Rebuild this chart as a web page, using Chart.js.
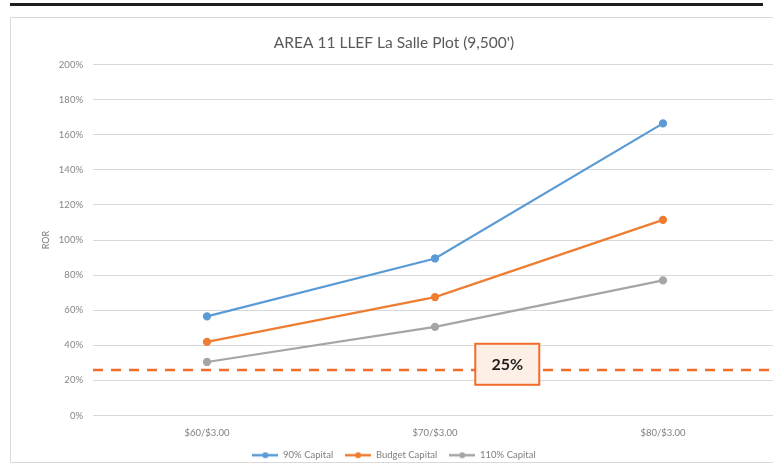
<!DOCTYPE html>
<html>
<head>
<meta charset="utf-8">
<script src="https://cdn.jsdelivr.net/npm/chart.js@4.4.1/dist/chart.umd.min.js"></script>
<style>
  html, body { margin: 0; padding: 0; background: #fff; overflow: hidden; width: 773px; height: 465px; }
  #topRule { position: absolute; left: 10px; top: 3px; width: 753px; height: 3px; background: #1e1e1e; }
  #frame { position: absolute; left: 10px; top: 17px; width: 800px; height: 446px; border: 1px solid #d9d9d9; box-sizing: border-box; }
  #wrap { position: absolute; left: 11px; top: 18px; width: 772px; height: 452px; }
</style>
</head>
<body>
<div id="topRule"></div>
<div id="frame"></div>
<div id="wrap"><canvas id="rorChart"></canvas></div>
<script>
const categories = ["$60/$3.00", "$70/$3.00", "$80/$3.00"];
const seriesNames = ["90% Capital", "Budget Capital", "110% Capital"];
const capital90 = [56.5, 89.5, 166.5];
const budgetCapital = [42, 67.5, 111.5];
const capital110 = [30.5, 50.5, 77];
const seriesColors = ["#5b9bd5", "#ed7d31", "#a5a5a5"];
const thresholdValue = 26;
const thresholdLabel = "25%";

const font = "Lato, 'Open Sans', sans-serif";

// little line-with-dot swatch, like the legend in Excel
function legendSwatch(color) {
  const c = document.createElement("canvas");
  c.width = 26;
  c.height = 8;
  const g = c.getContext("2d");
  g.strokeStyle = color;
  g.lineWidth = 2.5;
  g.beginPath();
  g.moveTo(0, 4);
  g.lineTo(26, 4);
  g.stroke();
  g.fillStyle = color;
  g.beginPath();
  g.arc(13, 4, 3, 0, Math.PI * 2);
  g.fill();
  return c;
}

const thresholdPlugin = {
  id: "threshold",
  afterDatasetsDraw(chart) {
    const { ctx, chartArea, scales } = chart;
    const y = scales.y.getPixelForValue(thresholdValue);
    ctx.save();
    ctx.strokeStyle = "#f26b2a";
    ctx.lineWidth = 2.5;
    ctx.setLineDash([10, 8]);
    ctx.beginPath();
    ctx.moveTo(chartArea.left, y);
    ctx.lineTo(chart.width, y);
    ctx.stroke();
    ctx.setLineDash([]);

    // label box sits a bit right of the middle category
    const cx = scales.x.getPixelForValue(1) + 0.317 * (scales.x.getPixelForValue(2) - scales.x.getPixelForValue(1));
    const cy = scales.y.getPixelForValue(29.2);
    const w = 64, h = 41;
    ctx.fillStyle = "#fdefe5";
    ctx.fillRect(cx - w / 2, cy - h / 2, w, h);
    ctx.strokeStyle = "#f26b2a";
    ctx.lineWidth = 2;
    ctx.strokeRect(cx - w / 2, cy - h / 2, w, h);
    ctx.fillStyle = "#1f1f1f";
    ctx.font = "bold 16px " + font;
    ctx.textAlign = "center";
    ctx.textBaseline = "middle";
    ctx.fillText(thresholdLabel, cx, cy + 1);
    ctx.restore();
  },
};

const datasetValues = [capital90, budgetCapital, capital110];

new Chart(document.getElementById("rorChart"), {
  type: "line",
  data: {
    labels: categories,
    datasets: datasetValues.map((vals, i) => ({
      label: seriesNames[i],
      data: vals,
      borderColor: seriesColors[i],
      backgroundColor: seriesColors[i],
      borderWidth: 2.25,
      pointRadius: 3,
      pointHoverRadius: 3,
      tension: 0,
    })),
  },
  options: {
    responsive: true,
    maintainAspectRatio: false,
    animation: false,
    layout: { padding: { left: 0, right: 6, top: 0, bottom: 0 } },
    plugins: {
      title: {
        display: true,
        text: "AREA 11 LLEF La Salle Plot (9,500')",
        color: "#595959",
        font: { family: font, size: 15.5, weight: "normal" },
        padding: { top: 16, bottom: 12 },
      },
      legend: {
        position: "bottom",
        labels: {
          color: "#7f7f7f",
          font: { family: font, size: 9.5 },
          usePointStyle: true,
          pointStyleWidth: 26,
          boxHeight: 9,
          padding: 12,
          generateLabels(chart) {
            const items = Chart.defaults.plugins.legend.labels.generateLabels(chart);
            items.forEach((it, i) => {
              it.pointStyle = legendSwatch(seriesColors[i]);
            });
            return items;
          },
        },
      },
      tooltip: { enabled: false },
    },
    scales: {
      x: {
        offset: true,
        grid: { display: false, drawTicks: false },
        border: { display: false },
        ticks: { color: "#808080", font: { family: font, size: 9.5 }, padding: 12 },
        afterFit(scale) {
          scale.height = 23;
        },
      },
      y: {
        min: 0,
        max: 200,
        grid: { color: "#d9d9d9", lineWidth: 1, drawTicks: false },
        border: { display: false },
        ticks: {
          stepSize: 20,
          color: "#858585",
          font: { family: font, size: 9.5 },
          padding: 10,
          callback: (v) => v + "%",
        },
        title: {
          display: true,
          text: "ROR",
          color: "#7f7f7f",
          font: { family: font, size: 9 },
          padding: { top: 30, bottom: 0 },
        },
        afterFit(scale) {
          scale.width = 82;
        },
      },
    },
  },
  plugins: [thresholdPlugin],
});
</script>
</body>
</html>
